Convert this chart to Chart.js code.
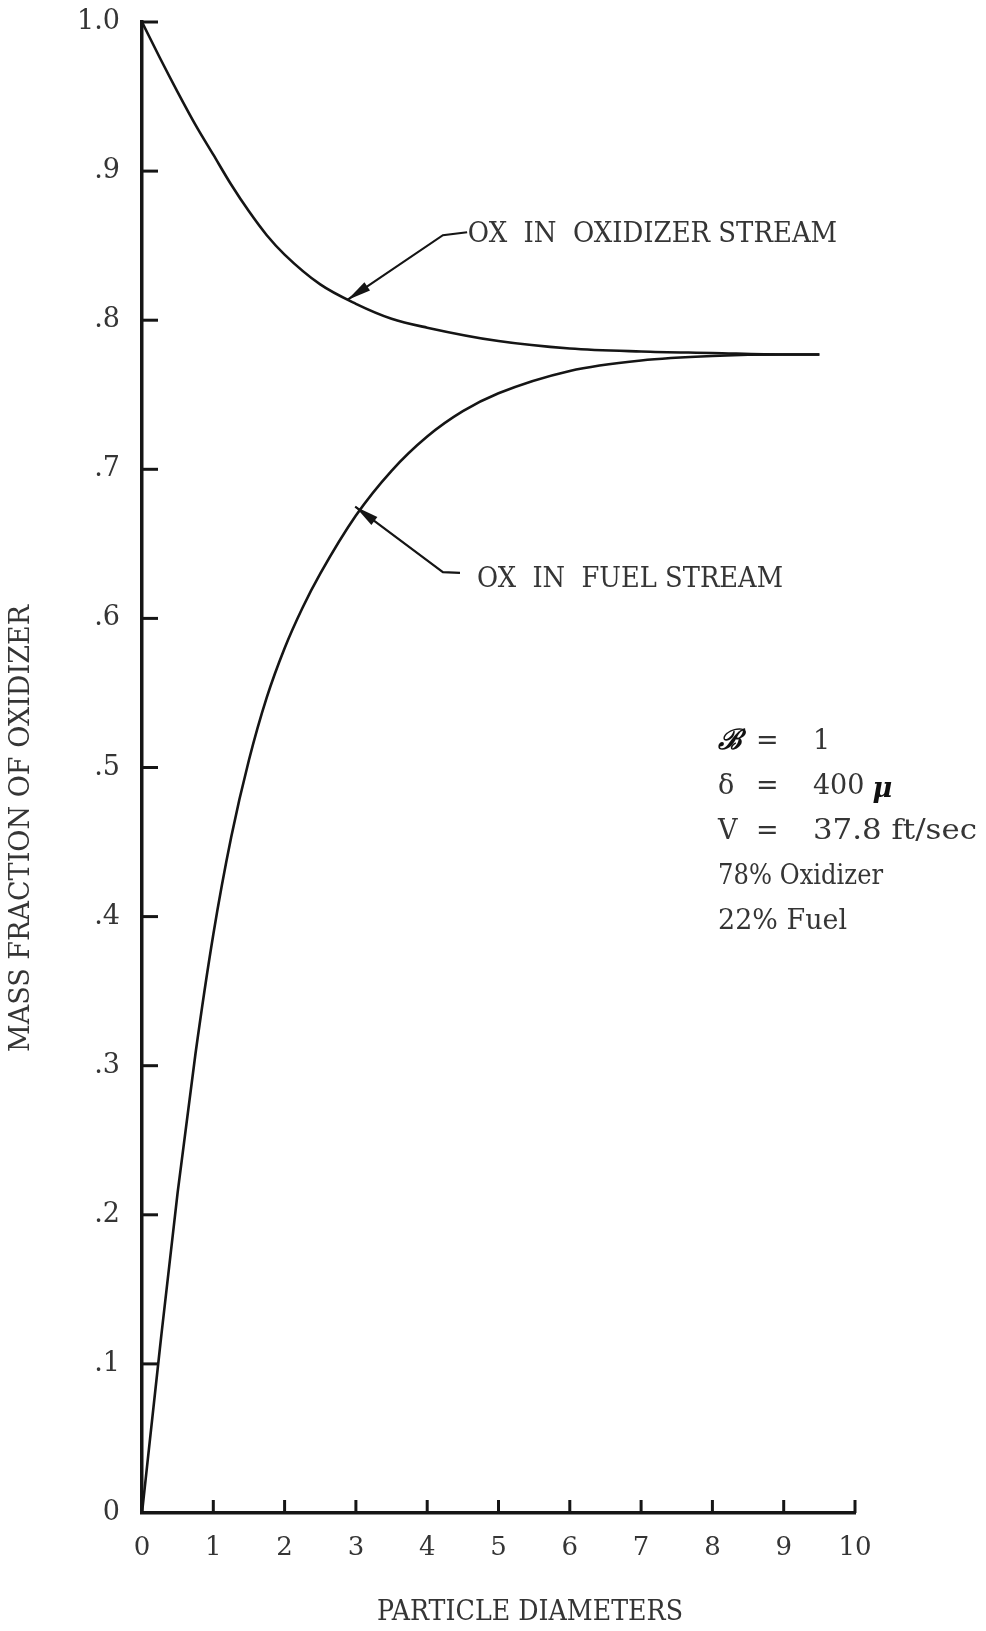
<!DOCTYPE html>
<html><head><meta charset="utf-8">
<script src="https://cdn.jsdelivr.net/npm/chart.js@4.4.1/dist/chart.umd.min.js"></script>
<style>html,body{margin:0;padding:0;background:#fff}#wrap{width:986px;height:1631px;position:relative}</style>
</head><body><div id="wrap"><canvas id="c"></canvas></div>
<script>
// ---- data ----
const xTickValues = [0,1,2,3,4,5,6,7,8,9,10];
const yTickLabels = ['0','.1','.2','.3','.4','.5','.6','.7','.8','.9','1.0'];
const oxStreamX = [0,0.25,0.5,0.75,1,1.25,1.5,1.75,2,2.5,3,3.5,4,5,6,7,8,9,9.5];
const oxStreamY = [1.0,0.976,0.953,0.931,0.911,0.891,0.873,0.857,0.844,0.824,0.811,0.801,0.795,0.786,0.781,0.779,0.778,0.777,0.777];
const fuelStreamX = [0,0.25,0.5,0.75,1,1.25,1.5,1.75,2,2.25,2.5,3,3.5,4,4.5,5,6,7,8,9,9.5];
const fuelStreamY = [0,0.11,0.215,0.308,0.388,0.453,0.505,0.547,0.58,0.607,0.63,0.669,0.699,0.722,0.739,0.751,0.766,0.773,0.776,0.777,0.777];
const curveLabels = ['OX  IN  OXIDIZER STREAM', 'OX  IN  FUEL STREAM'];
const paramSymbols = ['\u212C', '\u03B4', 'V'];
const paramValues = ['1', '400', '37.8 ft/sec'];
const compositionLines = ['78% Oxidizer', '22% Fuel'];
const xTitle = 'PARTICLE DIAMETERS';
const yTitle = 'MASS FRACTION OF OXIDIZER';

// ---- layout / style (positions in data units) ----
const ann = {
  label1: {x0:4.57, x1:9.75, y:0.857},
  arrow1: [[4.56,0.859],[4.22,0.857],[2.88,0.8136]],
  label2: {x0:4.70, x1:8.99, y:0.6258},
  arrow2: [[4.46,0.6305],[4.22,0.631],[2.99,0.675]],
  paramRows: [0.517,0.487,0.457,0.4266,0.3964],
  colSym: 8.08, colEq: 8.77, colVal: 9.41
};
const TEXT = '#353535', INK = '#151515';
const FONT = '"DejaVu Serif", "Liberation Serif", serif';

function pts(xs, ys){ return xs.map((x,i)=>({x:x, y:ys[i]})); }

function fitText(ctx, txt, x, y, w, font){
  ctx.save(); ctx.font = font;
  const m = ctx.measureText(txt).width;
  ctx.translate(x, y); ctx.scale(w/m, 1);
  ctx.textBaseline = 'middle'; ctx.textAlign = 'left';
  ctx.fillText(txt, 0, 0); ctx.restore();
}

const decor = {
  id: 'decor',
  afterDraw(chart){
    const ctx = chart.ctx, xs = chart.scales.x, ys = chart.scales.y;
    const X = v => xs.getPixelForValue(v), Y = v => ys.getPixelForValue(v);
    ctx.save();
    // inward tick marks
    ctx.strokeStyle = INK; ctx.lineWidth = 3; ctx.lineCap = 'butt';
    ys.ticks.forEach(t => { if (t.value > 0.001) { const py = Y(t.value); ctx.beginPath(); ctx.moveTo(xs.left, py); ctx.lineTo(xs.left + 16, py); ctx.stroke(); }});
    xs.ticks.forEach(t => { if (t.value > 0.001) { const px = X(t.value); ctx.beginPath(); ctx.moveTo(px, ys.bottom); ctx.lineTo(px, ys.bottom - 13); ctx.stroke(); }});
    // arrows
    function arrow(p){
      ctx.strokeStyle = INK; ctx.lineWidth = 2.2;
      ctx.beginPath(); ctx.moveTo(X(p[0][0]), Y(p[0][1]));
      for (let i=1;i<p.length;i++) ctx.lineTo(X(p[i][0]), Y(p[i][1]));
      ctx.stroke();
      const a = p[p.length-2], b = p[p.length-1];
      const ax = X(a[0]), ay = Y(a[1]), bx = X(b[0]), by = Y(b[1]);
      const ang = Math.atan2(by-ay, bx-ax), L = 24, W = 5;
      ctx.fillStyle = INK; ctx.beginPath();
      ctx.moveTo(bx, by);
      ctx.lineTo(bx - L*Math.cos(ang) + W*Math.sin(ang), by - L*Math.sin(ang) - W*Math.cos(ang));
      ctx.lineTo(bx - L*Math.cos(ang) - W*Math.sin(ang), by - L*Math.sin(ang) + W*Math.cos(ang));
      ctx.closePath(); ctx.fill();
    }
    arrow(ann.arrow1); arrow(ann.arrow2);
    // curve labels
    ctx.fillStyle = TEXT;
    fitText(ctx, curveLabels[0], X(ann.label1.x0), Y(ann.label1.y), X(ann.label1.x1)-X(ann.label1.x0), '27px ' + FONT);
    fitText(ctx, curveLabels[1], X(ann.label2.x0), Y(ann.label2.y), X(ann.label2.x1)-X(ann.label2.x0), '27px ' + FONT);
    // parameters
    ctx.textBaseline = 'middle'; ctx.textAlign = 'left';
    for (let i=0;i<3;i++){
      const py = Y(ann.paramRows[i]);
      ctx.font = (i===0 ? 'bold italic 28px ' : '27px ') + FONT; ctx.fillStyle = i===0 ? '#111' : TEXT;
      ctx.fillText(paramSymbols[i], X(ann.colSym), py);
      ctx.font = '27px ' + FONT; ctx.fillStyle = TEXT; ctx.textAlign = 'center';
      ctx.fillText('=', X(ann.colEq), py); ctx.textAlign = 'left';
      if (i === 2) fitText(ctx, paramValues[i], X(ann.colVal), py, 164, '27px ' + FONT);
      else ctx.fillText(paramValues[i], X(ann.colVal), py);
      if (i === 1){
        const w = ctx.measureText(paramValues[i]).width;
        ctx.font = 'bold italic 27px ' + FONT; ctx.fillStyle = '#111';
        ctx.fillText('\u03BC', X(ann.colVal) + w + 8, py + 3);
      }
    }
    ctx.fillStyle = TEXT;
    fitText(ctx, compositionLines[0], X(ann.colSym), Y(ann.paramRows[3]), 165, '27px ' + FONT);
    fitText(ctx, compositionLines[1], X(ann.colSym), Y(ann.paramRows[4]), 129, '27px ' + FONT);
    // axis titles
    ctx.fillStyle = TEXT;
    fitText(ctx, xTitle, 377, 1613, 306, '27px ' + FONT);
    ctx.save(); ctx.translate(22, 829); ctx.rotate(-Math.PI/2);
    fitText(ctx, yTitle, -223, 0, 447, '27px ' + FONT);
    ctx.restore();
    ctx.restore();
  }
};

new Chart(document.getElementById('c'), {
  type: 'line',
  data: { datasets: [
    { label: 'OX in oxidizer stream', data: pts(oxStreamX, oxStreamY), borderColor: INK, borderWidth: 2.6, pointRadius: 0, cubicInterpolationMode: 'monotone', fill: false },
    { label: 'OX in fuel stream', data: pts(fuelStreamX, fuelStreamY), borderColor: INK, borderWidth: 2.6, pointRadius: 0, cubicInterpolationMode: 'monotone', fill: false }
  ]},
  options: {
    responsive: true, maintainAspectRatio: false, animation: false,
    layout: { padding: { top: 22, right: 131, left: 0, bottom: 0 } },
    plugins: { legend: { display: false }, tooltip: { enabled: false } },
    scales: {
      x: { type: 'linear', min: 0, max: 10,
        afterBuildTicks: s => { s.ticks = xTickValues.map(v => ({value: v})); },
        afterFit: s => { s.height = 118; s.paddingLeft = 0; s.paddingRight = 0; },
        grid: { display: false, drawTicks: false },
        border: { display: true, color: INK, width: 3.5 },
        ticks: { color: TEXT, font: { family: FONT, size: 26 }, padding: 20, maxRotation: 0, autoSkip: false, callback: v => String(v) } },
      y: { type: 'linear', min: 0, max: 1,
        afterBuildTicks: s => { s.ticks = yTickLabels.map((l,i) => ({value: i/10})); },
        afterFit: s => { s.width = 142; s.paddingTop = 0; s.paddingBottom = 0; },
        grid: { display: false, drawTicks: false },
        border: { display: true, color: INK, width: 3.5 },
        ticks: { color: TEXT, font: { family: FONT, size: 27 }, padding: 22, autoSkip: false, callback: (v) => yTickLabels[Math.round(v*10)] } }
    }
  },
  plugins: [decor]
});
</script></body></html>
